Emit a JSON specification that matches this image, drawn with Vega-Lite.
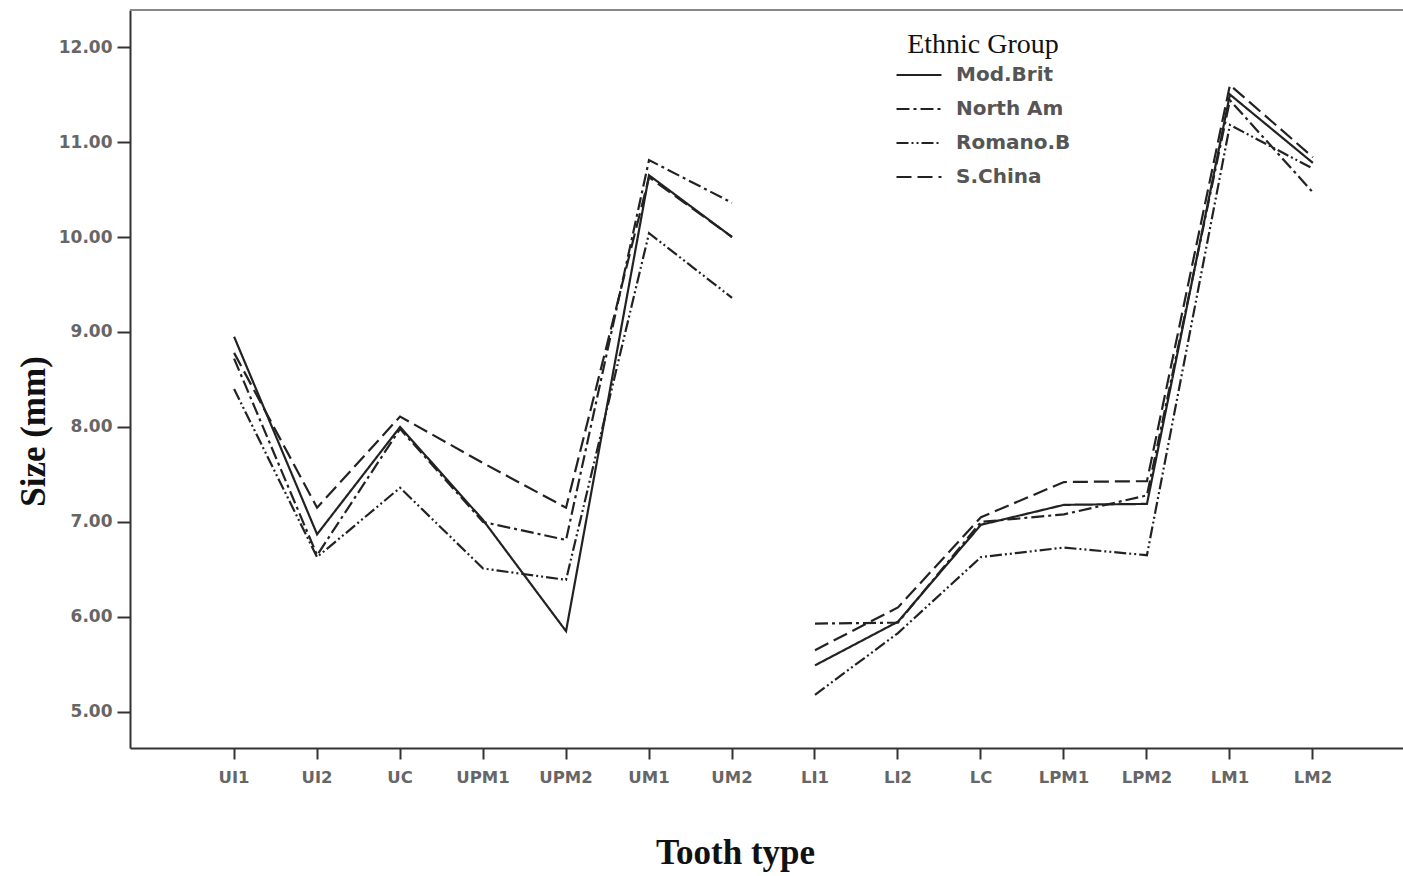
{
  "$schema": "https://vega.github.io/schema/vega-lite/v6.json",
  "autosize": "none",
  "width": 1273,
  "height": 738,
  "padding": {"left": 130, "top": 10, "right": 0, "bottom": 128},
  "background": "white",
  "config": {"view": {"stroke": null}},
  "data": {
    "values": [
      {"group": "Mod.Brit", "jaw": "Upper", "tooth": "UI1", "size": 8.95},
      {"group": "Mod.Brit", "jaw": "Upper", "tooth": "UI2", "size": 6.87},
      {"group": "Mod.Brit", "jaw": "Upper", "tooth": "UC", "size": 8.0},
      {"group": "Mod.Brit", "jaw": "Upper", "tooth": "UPM1", "size": 7.02},
      {"group": "Mod.Brit", "jaw": "Upper", "tooth": "UPM2", "size": 5.85},
      {"group": "Mod.Brit", "jaw": "Upper", "tooth": "UM1", "size": 10.65},
      {"group": "Mod.Brit", "jaw": "Upper", "tooth": "UM2", "size": 10.0},
      {"group": "Mod.Brit", "jaw": "Lower", "tooth": "LI1", "size": 5.49},
      {"group": "Mod.Brit", "jaw": "Lower", "tooth": "LI2", "size": 5.95},
      {"group": "Mod.Brit", "jaw": "Lower", "tooth": "LC", "size": 6.97},
      {"group": "Mod.Brit", "jaw": "Lower", "tooth": "LPM1", "size": 7.18},
      {"group": "Mod.Brit", "jaw": "Lower", "tooth": "LPM2", "size": 7.19},
      {"group": "Mod.Brit", "jaw": "Lower", "tooth": "LM1", "size": 11.5},
      {"group": "Mod.Brit", "jaw": "Lower", "tooth": "LM2", "size": 10.78},
      {"group": "North Am", "jaw": "Upper", "tooth": "UI1", "size": 8.72},
      {"group": "North Am", "jaw": "Upper", "tooth": "UI2", "size": 6.65},
      {"group": "North Am", "jaw": "Upper", "tooth": "UC", "size": 7.98},
      {"group": "North Am", "jaw": "Upper", "tooth": "UPM1", "size": 7.0},
      {"group": "North Am", "jaw": "Upper", "tooth": "UPM2", "size": 6.81},
      {"group": "North Am", "jaw": "Upper", "tooth": "UM1", "size": 10.81},
      {"group": "North Am", "jaw": "Upper", "tooth": "UM2", "size": 10.36},
      {"group": "North Am", "jaw": "Lower", "tooth": "LI1", "size": 5.93},
      {"group": "North Am", "jaw": "Lower", "tooth": "LI2", "size": 5.94},
      {"group": "North Am", "jaw": "Lower", "tooth": "LC", "size": 7.0},
      {"group": "North Am", "jaw": "Lower", "tooth": "LPM1", "size": 7.08},
      {"group": "North Am", "jaw": "Lower", "tooth": "LPM2", "size": 7.28},
      {"group": "North Am", "jaw": "Lower", "tooth": "LM1", "size": 11.44},
      {"group": "North Am", "jaw": "Lower", "tooth": "LM2", "size": 10.47},
      {"group": "Romano.B", "jaw": "Upper", "tooth": "UI1", "size": 8.4},
      {"group": "Romano.B", "jaw": "Upper", "tooth": "UI2", "size": 6.63},
      {"group": "Romano.B", "jaw": "Upper", "tooth": "UC", "size": 7.36},
      {"group": "Romano.B", "jaw": "Upper", "tooth": "UPM1", "size": 6.51},
      {"group": "Romano.B", "jaw": "Upper", "tooth": "UPM2", "size": 6.39},
      {"group": "Romano.B", "jaw": "Upper", "tooth": "UM1", "size": 10.04},
      {"group": "Romano.B", "jaw": "Upper", "tooth": "UM2", "size": 9.36},
      {"group": "Romano.B", "jaw": "Lower", "tooth": "LI1", "size": 5.18},
      {"group": "Romano.B", "jaw": "Lower", "tooth": "LI2", "size": 5.83},
      {"group": "Romano.B", "jaw": "Lower", "tooth": "LC", "size": 6.63},
      {"group": "Romano.B", "jaw": "Lower", "tooth": "LPM1", "size": 6.73},
      {"group": "Romano.B", "jaw": "Lower", "tooth": "LPM2", "size": 6.65},
      {"group": "Romano.B", "jaw": "Lower", "tooth": "LM1", "size": 11.18},
      {"group": "Romano.B", "jaw": "Lower", "tooth": "LM2", "size": 10.72},
      {"group": "S.China", "jaw": "Upper", "tooth": "UI1", "size": 8.78},
      {"group": "S.China", "jaw": "Upper", "tooth": "UI2", "size": 7.15},
      {"group": "S.China", "jaw": "Upper", "tooth": "UC", "size": 8.11},
      {"group": "S.China", "jaw": "Upper", "tooth": "UPM1", "size": 7.62},
      {"group": "S.China", "jaw": "Upper", "tooth": "UPM2", "size": 7.15},
      {"group": "S.China", "jaw": "Upper", "tooth": "UM1", "size": 10.63},
      {"group": "S.China", "jaw": "Upper", "tooth": "UM2", "size": 10.0},
      {"group": "S.China", "jaw": "Lower", "tooth": "LI1", "size": 5.65},
      {"group": "S.China", "jaw": "Lower", "tooth": "LI2", "size": 6.1},
      {"group": "S.China", "jaw": "Lower", "tooth": "LC", "size": 7.05},
      {"group": "S.China", "jaw": "Lower", "tooth": "LPM1", "size": 7.42},
      {"group": "S.China", "jaw": "Lower", "tooth": "LPM2", "size": 7.43},
      {"group": "S.China", "jaw": "Lower", "tooth": "LM1", "size": 11.6},
      {"group": "S.China", "jaw": "Lower", "tooth": "LM2", "size": 10.84}
    ]
  },
  "layer": [
    {
      "mark": {"type": "line", "color": "#222222", "strokeWidth": 2.2},
      "encoding": {
        "x": {
          "field": "tooth",
          "type": "nominal",
          "bandPosition": 0.5,
          "sort": ["UI1", "UI2", "UC", "UPM1", "UPM2", "UM1", "UM2", "LI1", "LI2", "LC", "LPM1", "LPM2", "LM1", "LM2"],
          "scale": {"type": "band", "paddingInner": 0, "paddingOuter": 0.67, "align": 0.563},
          "axis": {
            "title": "Tooth type",
            "titleFont": "Liberation Serif",
            "titleFontSize": 35,
            "titleFontWeight": "bold",
            "titleColor": "#111111",
            "titleX": 605,
            "titleY": 115,
            "titleAlign": "center",
            "titleBaseline": "alphabetic",
            "labelAngle": 0,
            "labelFont": "DejaVu Sans",
            "labelFontWeight": "bold",
            "labelFontSize": 16.5,
            "labelColor": "#666666",
            "labelPadding": 10,
            "tickSize": 11,
            "tickWidth": 2,
            "tickColor": "#333333",
            "tickBand": "center",
            "domainColor": "#333333",
            "domainWidth": 2,
            "grid": false
          }
        },
        "y": {
          "field": "size",
          "type": "quantitative",
          "scale": {"domain": [4.62, 12.39], "nice": false, "zero": false},
          "axis": {
            "title": "Size (mm)",
            "titleFont": "Liberation Serif",
            "titleFontSize": 35,
            "titleFontWeight": "bold",
            "titleColor": "#111111",
            "titleAngle": -90,
            "titleX": -86,
            "titleY": 421,
            "titleAlign": "center",
            "titleBaseline": "alphabetic",
            "values": [5, 6, 7, 8, 9, 10, 11, 12],
            "format": ".2f",
            "labelFont": "DejaVu Sans",
            "labelFontWeight": "bold",
            "labelFontSize": 17,
            "labelColor": "#666666",
            "labelPadding": 5,
            "tickSize": 13,
            "tickWidth": 2,
            "tickColor": "#333333",
            "domainColor": "#333333",
            "domainWidth": 2,
            "grid": false
          }
        },
        "strokeDash": {
          "field": "group",
          "type": "nominal",
          "scale": {
            "domain": ["Mod.Brit", "North Am", "Romano.B", "S.China"],
            "range": [[1, 0], [13, 4, 3, 4], [12, 3, 2, 3, 2, 3], [15, 6]]
          },
          "legend": {
            "title": "Ethnic Group",
            "orient": "none",
            "legendX": 765,
            "legendY": 21,
            "padding": 0,
            "titleFont": "Liberation Serif",
            "titleFontSize": 28,
            "titleFontWeight": "normal",
            "titleColor": "#111111",
            "titleAnchor": "middle",
            "titlePadding": -1,
            "symbolType": "stroke",
            "symbolSize": 2025,
            "symbolStrokeWidth": 2.2,
            "symbolStrokeColor": "#222222",
            "clipHeight": 34,
            "rowPadding": 0,
            "labelFont": "DejaVu Sans",
            "labelFontWeight": "bold",
            "labelFontSize": 20,
            "labelColor": "#555555",
            "labelOffset": 13
          }
        },
        "detail": {"field": "jaw", "type": "nominal"}
      }
    },
    {
      "mark": {"type": "rule", "color": "#888888", "strokeWidth": 2},
      "encoding": {"y": {"datum": 12.39}}
    }
  ]
}
